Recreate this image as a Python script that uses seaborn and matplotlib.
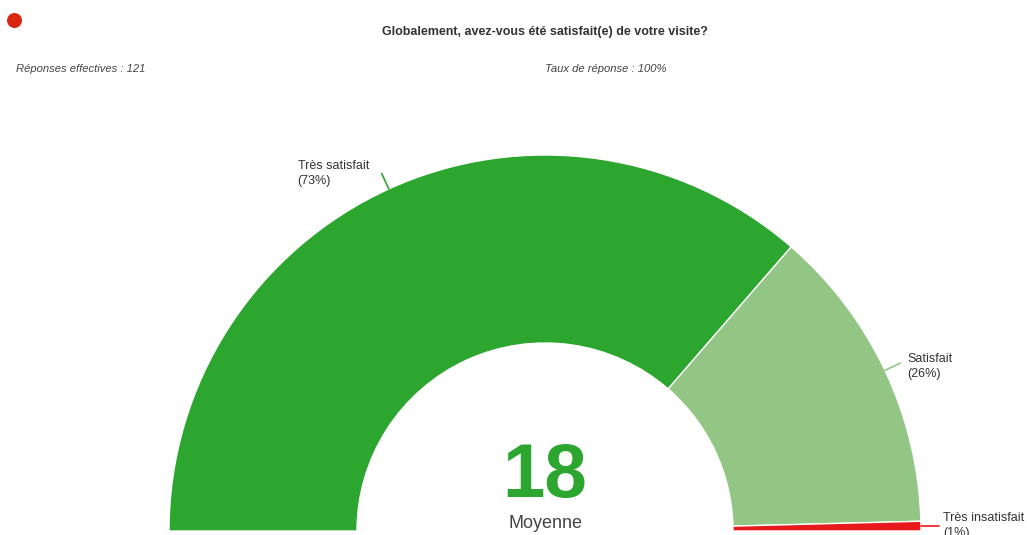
import numpy as np
import matplotlib
matplotlib.use('Agg')
import matplotlib.pyplot as plt
import seaborn as sns

# Données
categories = ['Très satisfait', 'Satisfait', 'Très insatisfait']
reponses = [88, 32, 1]
pourcentages = ['73%', '26%', '1%']
couleurs = ['#2ca62f', '#93c684', '#e8191c']
moyenne = 18
total = 121

sns.set_theme(style='white')
plt.rcParams['font.family'] = ['Liberation Sans', 'DejaVu Sans']

W, H = 1027, 535
fig = plt.figure(figsize=(W / 100, H / 100), dpi=100)
ax = fig.add_axes([0, 0, 1, 1])

cx, cy, r_ext, r_int = 545, H - 531, 376, 188

# demi-anneau : la moitié basse est invisible
valeurs = reponses + [sum(reponses)]
wedges, _ = ax.pie(valeurs, colors=couleurs + ['none'], startangle=180,
                   counterclock=False, center=(cx, cy), radius=r_ext,
                   wedgeprops=dict(width=r_ext - r_int, edgecolor='white', linewidth=1),
                   frame=True)
wedges[-1].set_edgecolor('none')

ax.set_xlim(0, W)
ax.set_ylim(0, H)
ax.set_aspect('equal')
ax.axis('off')

# étiquettes avec petits traits
decal = [(-84, 0), (7, -3), (4, 1)]
for w, nom, pc, col, (dx, dy) in zip(wedges, categories, pourcentages, couleurs, decal):
    a = np.deg2rad((w.theta1 + w.theta2) / 2)
    x0, y0 = cx + r_ext * np.cos(a), cy + r_ext * np.sin(a)
    if nom == 'Très insatisfait':
        x1, y1 = x0 + 18, y0
    else:
        x1, y1 = cx + (r_ext + 17) * np.cos(a), cy + (r_ext + 17) * np.sin(a)
    ax.plot([x0, x1], [y0, y1], color=col, lw=1.2)
    ax.text(x1 + dx, y1 + dy, f'{nom}\n({pc})', fontsize=9, color='#333333',
            ha='left', va='center', linespacing=1.35)

# valeur centrale
ax.text(cx, H - 477, str(moyenne), fontsize=55, fontweight='bold', color='#2ca62f',
        ha='center', va='center')
ax.text(cx, H - 524, 'Moyenne', fontsize=13, color='#444444', ha='center', va='center')

# en-tête
ax.scatter([14], [H - 20], s=95, color='#d9260f')
ax.text(545, H - 32, 'Globalement, avez-vous été satisfait(e) de votre visite?',
        fontsize=9, fontweight='bold', color='#333333', ha='center', va='center')
ax.text(16, H - 69, f'Réponses effectives : {total}', fontsize=8.1, style='italic',
        color='#444444', ha='left', va='center')
ax.text(545, H - 69, 'Taux de réponse : 100%', fontsize=8.1, style='italic',
        color='#444444', ha='left', va='center')

plt.savefig('out.png', dpi=100)
